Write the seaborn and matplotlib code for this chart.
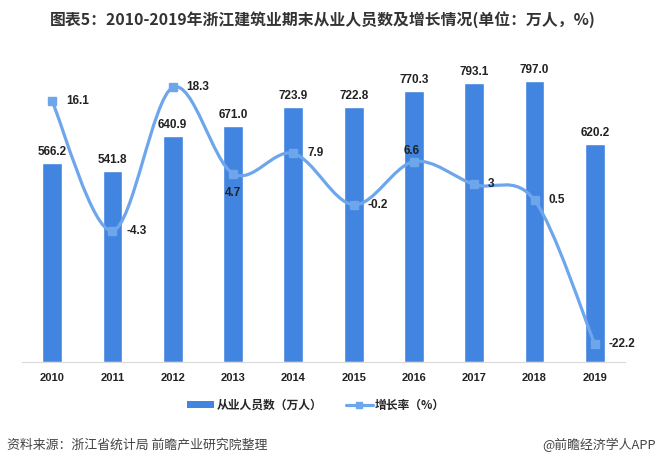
import matplotlib
matplotlib.use("Agg")
from matplotlib import pyplot as plt
from matplotlib.path import Path
from matplotlib.patches import PathPatch, Patch
from matplotlib.lines import Line2D
import seaborn as sns
import pandas as pd

years = ['2010', '2011', '2012', '2013', '2014', '2015', '2016', '2017', '2018', '2019']
workers = [566.2, 541.8, 640.9, 671.0, 723.9, 722.8, 770.3, 793.1, 797.0, 620.2]
growth = [16.1, -4.3, 18.3, 4.7, 7.9, -0.2, 6.6, 3, 0.5, -22.2]
growth_labels = ['16.1', '-4.3', '18.3', '4.7', '7.9', '-0.2', '6.6', '3', '0.5', '-22.2']

bar_color = '#4185E0'
line_color = '#6EA6EC'
cjk = ['Noto Sans CJK SC', 'DejaVu Sans']
num_font = ['Liberation Sans', 'DejaVu Sans']

sns.set_style('white')
plt.rcParams['font.family'] = cjk

df = pd.DataFrame({'year': years, 'workers': workers})

fig = plt.figure(figsize=(6.57, 4.67), dpi=100)
ax = fig.add_axes([22 / 657, 105 / 467, 603 / 657, 317 / 467])
sns.barplot(data=df, x='year', y='workers', color=bar_color, saturation=1,
            width=0.33, ax=ax)
ax.set_ylim(0, 900)
ax.set_xlim(-0.5, 9.5)
ax.set_xlabel('')
ax.set_ylabel('')
ax.set_yticks([])
for s in ['top', 'left', 'right']:
    ax.spines[s].set_visible(False)
ax.spines['bottom'].set_color('#d9d9d9')
ax.tick_params(axis='x', length=0, pad=8)
for lbl in ax.get_xticklabels():
    lbl.set_fontfamily(num_font)
    lbl.set_fontweight('bold')
    lbl.set_fontsize(8)
    lbl.set_color('#222222')

for i, v in enumerate(workers):
    ax.text(i, v + 14, f'{v:.1f}', ha='center', va='bottom', fontsize=8.5,
            fontweight='bold', family=num_font, color='#222222')

# growth line on secondary axis, smoothed like an Excel line
ax2 = ax.twinx()
ax2.set_ylim(-25, 25)
ax2.set_yticks([])
for s in ['top', 'left', 'right', 'bottom']:
    ax2.spines[s].set_visible(False)

pts = list(zip(range(len(growth)), growth))
verts = [pts[0]]
codes = [Path.MOVETO]
n = len(pts)
for i in range(n - 1):
    p0 = pts[i - 1] if i > 0 else pts[i]
    p1 = pts[i]
    p2 = pts[i + 1]
    p3 = pts[i + 2] if i + 2 < n else pts[i + 1]
    c1 = (p1[0] + (p2[0] - p0[0]) / 6, p1[1] + (p2[1] - p0[1]) / 6)
    c2 = (p2[0] - (p3[0] - p1[0]) / 6, p2[1] - (p3[1] - p1[1]) / 6)
    verts += [c1, c2, p2]
    codes += [Path.CURVE4] * 3
ax2.add_patch(PathPatch(Path(verts, codes), fill=False, edgecolor=line_color,
                        lw=2.3, capstyle='round', joinstyle='round'))
ax2.plot(range(n), growth, 's', color=line_color, markersize=6, zorder=5)

offsets = {3: (0, -14, 'center'), 6: (-2, 8, 'center')}
for i, (v, t) in enumerate(zip(growth, growth_labels)):
    dx, dy, ha = offsets.get(i, (10, 0, 'left'))
    ax2.annotate(t, (i, v), xytext=(dx, dy), textcoords='offset points',
                 ha=ha, va='center', fontsize=8.5, fontweight='bold',
                 family=num_font, color='#222222')

handles = [Patch(facecolor=bar_color, edgecolor='none'),
           Line2D([0], [0], color=line_color, lw=2.3, marker='s', markersize=4.5)]
fig.legend(handles, ['从业人员数（万人）', '增长率（%）'], loc='center',
           bbox_to_anchor=(316 / 657, 1 - 405 / 467), ncol=2, frameon=False,
           prop={'family': cjk, 'weight': 'bold', 'size': 8.5},
           handlelength=2.3, handleheight=0.6, columnspacing=2.0, handletextpad=0.2)

fig.text(323 / 657, 1 - 20 / 467,
         '图表5：2010-2019年浙江建筑业期末从业人员数及增长情况(单位：万人，%)',
         ha='center', va='center', fontsize=11.4, fontweight='bold', color='#333333')
fig.text(7 / 657, 1 - 445 / 467, '资料来源：浙江省统计局 前瞻产业研究院整理',
         ha='left', va='center', fontsize=9.3, color='#444444')
fig.text(656 / 657, 1 - 445 / 467, '@前瞻经济学人APP',
         ha='right', va='center', fontsize=9.3, color='#444444')

fig.savefig('out.png', dpi=100)
